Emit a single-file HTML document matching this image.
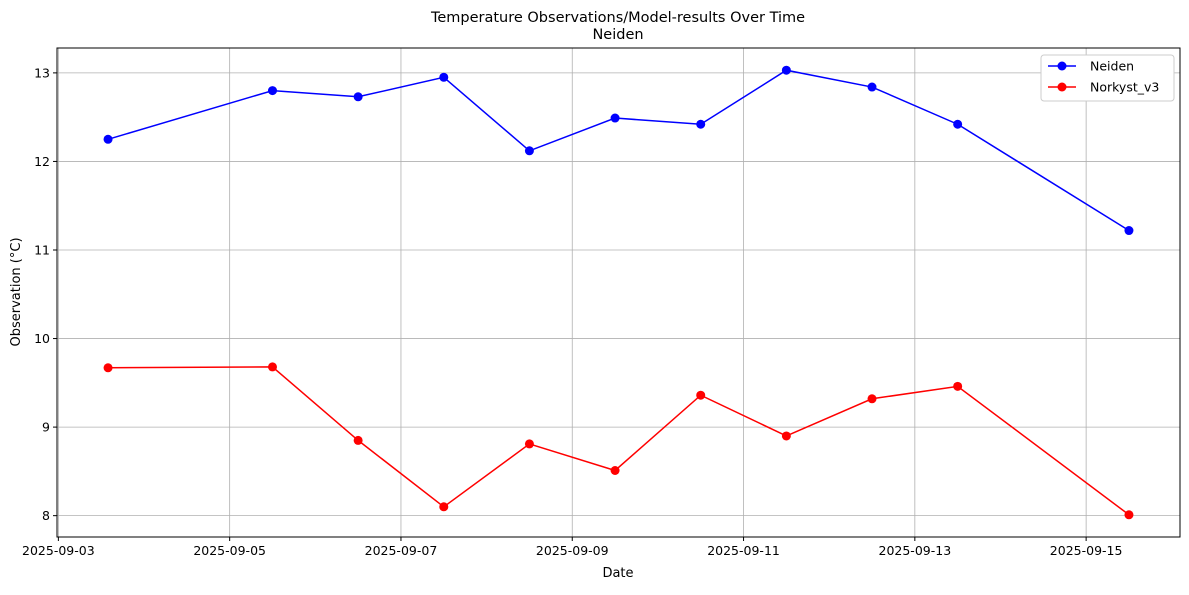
<!DOCTYPE html>
<html><head><meta charset="utf-8"><style>
body{margin:0;background:#fff;font-family:"Liberation Sans","DejaVu Sans",sans-serif}
svg text{font-family:"DejaVu Sans","Liberation Sans",sans-serif}
</style></head><body>
<svg id="chart" width="1189" height="590" xmlns="http://www.w3.org/2000/svg">
<rect width="1189" height="590" fill="#fff"/>
<text x="618" y="22" font-size="14.5" text-anchor="middle">Temperature Observations/Model-results Over Time</text>
<text x="618" y="39" font-size="14.5" text-anchor="middle">Neiden</text>
<g id="grid"></g><g id="series"></g><g id="axes"></g>
<text x="618" y="577" font-size="13" text-anchor="middle">Date</text>
<text transform="translate(20,292) rotate(-90)" font-size="13" text-anchor="middle">Observation (°C)</text>
<g>
<rect x="1041" y="55" width="133" height="46" fill="#fff" stroke="#ccc" rx="3"/>
<line x1="1048" y1="66" x2="1076" y2="66" stroke="#0000ff" stroke-width="1.5"/><circle cx="1062" cy="66" r="4.5" fill="#0000ff"/>
<text x="1090" y="70.5" font-size="12.5">Neiden</text>
<line x1="1048" y1="87" x2="1076" y2="87" stroke="#ff0000" stroke-width="1.5"/><circle cx="1062" cy="87" r="4.5" fill="#ff0000"/>
<text x="1090" y="91.5" font-size="12.5">Norkyst_v3</text>
</g>
</svg>
<script>
const dayOffsets=[0.58,2.5,3.5,4.5,5.5,6.5,7.5,8.5,9.5,10.5,12.5];
const neiden=[12.25,12.80,12.73,12.95,12.12,12.49,12.42,13.03,12.84,12.42,11.22];
const norkyst=[9.67,9.68,8.85,8.10,8.81,8.51,9.36,8.90,9.32,9.46,8.01];
const xTickLabels=["2025-09-03","2025-09-05","2025-09-07","2025-09-09","2025-09-11","2025-09-13","2025-09-15"];
const xTickDays=[0,2,4,6,8,10,12];
const yTicks=[8,9,10,11,12,13];
const L=57,R=1180,T=48,B=537;
const all=neiden.concat(norkyst);
const ymin=Math.min(...all),ymax=Math.max(...all),yr=ymax-ymin;
const y0=ymin-0.05*yr,y1=ymax+0.05*yr;
const dmin=Math.min(...dayOffsets),dmax=Math.max(...dayOffsets),dr=dmax-dmin;
const x0=dmin-0.05*dr,x1=dmax+0.05*dr;
const X=d=>L+(d-x0)/(x1-x0)*(R-L);
const Y=v=>B-(v-y0)/(y1-y0)*(B-T);
const NS="http://www.w3.org/2000/svg";
function mk(tag,attrs,parent){const e=document.createElementNS(NS,tag);for(const k in attrs)e.setAttribute(k,attrs[k]);parent.appendChild(e);return e;}
const grid=document.getElementById('grid'),axes=document.getElementById('axes'),ser=document.getElementById('series');
xTickDays.forEach((d,i)=>{const x=X(d);
 const g=mk('line',{x1:x,x2:x,y1:T,y2:B,stroke:'#b0b0b0','stroke-width':0.8},grid);
 
 
 mk('line',{x1:x,x2:x,y1:B,y2:B+4,stroke:'#000'},axes);
 const t=mk('text',{x:x,y:B+18,'font-size':12.5,'text-anchor':'middle'},axes);t.textContent=xTickLabels[i];
 
 });
yTicks.forEach(v=>{const y=Y(v);
 const g=mk('line',{x1:L,x2:R,y1:y,y2:y,stroke:'#b0b0b0','stroke-width':0.8},grid);
 
 
 mk('line',{x1:L-4,x2:L,y1:y,y2:y,stroke:'#000'},axes);
 const t=mk('text',{x:L-7,y:y+4.5,'font-size':12.5,'text-anchor':'end'},axes);t.textContent=v;
 
 });
const frame=mk('rect',{x:L,y:T,width:R-L,height:B-T,fill:'none',stroke:'#000','stroke-width':1},axes);


function draw(vals,color,name){
 const p=mk('polyline',{points:vals.map((v,i)=>X(dayOffsets[i])+','+Y(v)).join(' '),fill:'none',stroke:color,'stroke-width':1.5},ser);
 
 
 vals.forEach((v,i)=>{const c=mk('circle',{cx:X(dayOffsets[i]),cy:Y(v),r:4.5,fill:color},ser);
  
  });
}
draw(neiden,'#0000ff','neiden');
draw(norkyst,'#ff0000','norkyst');
</script>
</body></html>
